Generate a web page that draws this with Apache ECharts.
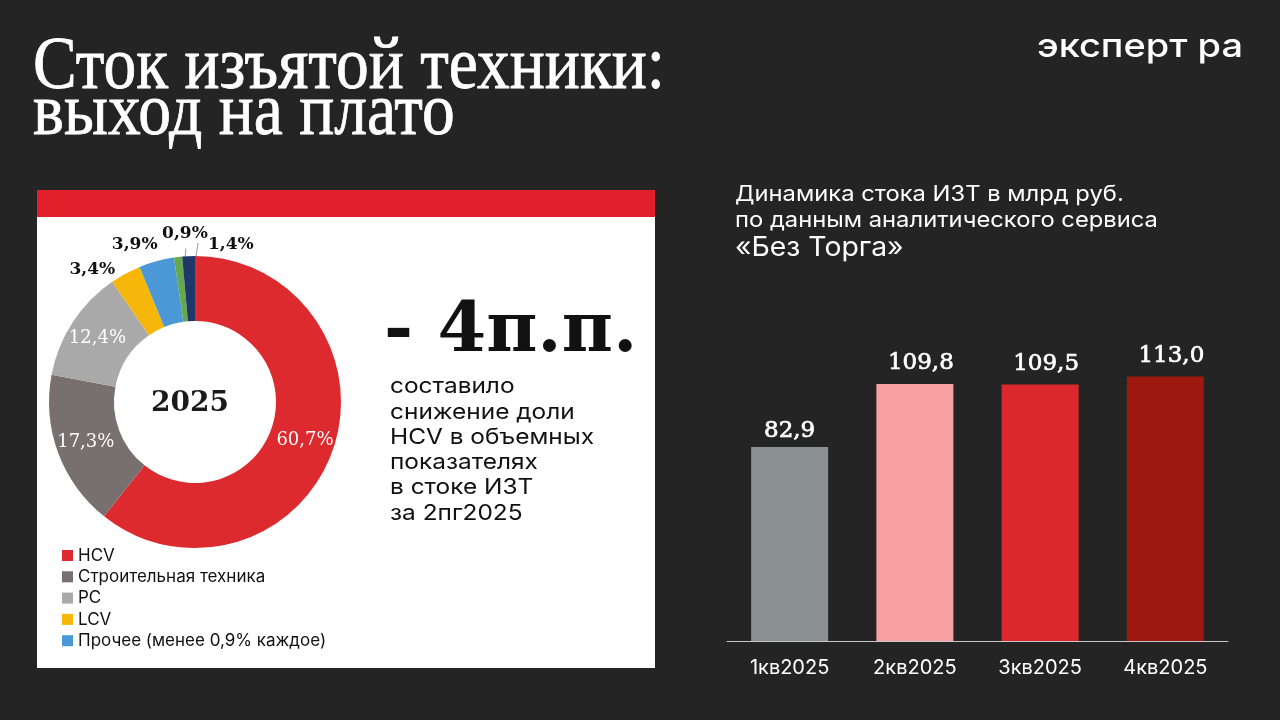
<!DOCTYPE html>
<html>
<head>
<meta charset="utf-8">
<script src="https://cdn.jsdelivr.net/npm/echarts@6/dist/echarts.min.js"></script>
<style>
html,body{margin:0;padding:0;background:#242424;}
#c{width:1280px;height:720px;}
</style>
</head>
<body>
<div id="c"></div>
<script>
// ---- data ----
const donutNames = ['HCV', 'Строительная техника', 'PC', 'LCV', 'Прочее (менее 0,9% каждое)', 'Прочее 0,9%', 'Прочее 1,4%'];
const donutValues = [60.7, 17.3, 12.4, 3.4, 3.9, 0.9, 1.4];
const legendNames = ['HCV', 'Строительная техника', 'PC', 'LCV', 'Прочее (менее 0,9% каждое)'];
const donutCenterLabel = '2025';
const quarters = ['1кв2025', '2кв2025', '3кв2025', '4кв2025'];
const stockValues = [82.9, 109.8, 109.5, 113.0];

// ---- styles ----
const donutColors = ['#dc2a2f', '#78706f', '#a9a9a9', '#f6b60a', '#4b98d6', '#67a84c', '#1f386a'];
const barColors = ['#8a8f92', '#f7a0a1', '#db282d', '#9d190f'];
const fmt = v => v.toFixed(1).replace('.', ',');

const chart = echarts.init(document.getElementById('c'));

const pieData = donutValues.map((v, i) => ({
  name: donutNames[i],
  value: v,
  itemStyle: { color: donutColors[i] },
  label: i < 3
    ? { position: 'inside', color: '#ffffff', fontSize: 18 }
    : { position: 'outside', color: '#111111', fontWeight: 'bold', fontSize: 17 },
  labelLine: { show: i >= 5 }
}));

const barData = stockValues.map((v, i) => ({
  value: v,
  itemStyle: { color: barColors[i] },
  label: i === 0 ? { offset: [0, 5] } : { offset: [6, 0] }
}));

chart.setOption({
  backgroundColor: '#242424',
  animation: false,
  graphic: [
    { type: 'rect', z: 0, shape: { x: 37, y: 190, width: 618, height: 478 }, style: { fill: '#ffffff' } },
    { type: 'rect', z: 0, shape: { x: 37, y: 190, width: 618, height: 27 }, style: { fill: '#e01f2b' } },
    { type: 'text', z: 1, x: 33, y: 32, scaleX: 0.885, style: { text: 'Сток изъятой техники:', fill: '#ffffff', stroke: '#ffffff', lineWidth: 0.8, font: '74px "Liberation Serif"', verticalAlign: 'top' } },
    { type: 'text', z: 1, x: 33, y: 78, scaleX: 0.885, style: { text: 'выход на плато', fill: '#ffffff', stroke: '#ffffff', lineWidth: 0.8, font: '74px "Liberation Serif"', verticalAlign: 'top' } },
    { type: 'text', z: 1, x: 1037, y: 31, scaleX: 1.15, style: { text: 'эксперт ра', fill: '#ffffff', font: '500 33px Inter', verticalAlign: 'top' } },
    { type: 'text', z: 1, x: 384, y: 298, style: { text: '- 4п.п.', fill: '#111111', font: 'bold 70px "DejaVu Serif"', verticalAlign: 'top' } },
    { type: 'text', z: 1, x: 390, y: 374, scaleX: 1.11, style: { text: 'составило\nснижение доли\nHCV в объемных\nпоказателях\nв стоке ИЗТ\nза 2пг2025', fill: '#111111', font: '22px Inter', lineHeight: 25.3, verticalAlign: 'top' } },
    { type: 'text', z: 1, x: 735, y: 181, scaleX: 1.08, style: { text: 'Динамика стока ИЗТ в млрд руб.\nпо данным аналитического сервиса', fill: '#ffffff', font: '22px Inter', lineHeight: 26, verticalAlign: 'top' } },
    { type: 'text', z: 1, x: 735, y: 234, scaleX: 1.05, style: { text: '«Без Торга»', fill: '#ffffff', font: '27px Inter', verticalAlign: 'top' } },
    { type: 'text', z: 3, x: 190, y: 404, style: { text: donutCenterLabel, fill: '#1a1a1a', font: 'bold 28px "DejaVu Serif"', align: 'center', verticalAlign: 'middle' } }
  ],
  legend: {
    data: legendNames,
    orient: 'vertical',
    left: 57,
    top: 542,
    icon: 'rect',
    itemWidth: 11,
    itemHeight: 11,
    itemGap: 4.3,
    textStyle: { color: '#111111', fontFamily: 'Inter', fontSize: 17 },
    selectedMode: false
  },
  grid: { left: 727, right: 52, top: 360, bottom: 79 },
  xAxis: {
    type: 'category',
    data: quarters,
    axisLine: { lineStyle: { color: '#c8c8c8', width: 1 } },
    axisTick: { show: false },
    axisLabel: { color: '#ffffff', fontFamily: 'Inter', fontSize: 20, margin: 17 }
  },
  yAxis: { type: 'value', min: 0, max: 120, show: false, splitLine: { show: false } },
  series: [
    {
      type: 'pie',
      center: [195, 402],
      radius: [81, 146],
      startAngle: 90,
      clockwise: true,
      avoidLabelOverlap: false,
      data: pieData,
      label: {
        show: true,
        fontFamily: 'DejaVu Serif',
        formatter: p => fmt(p.value) + '%'
      },
      labelLine: { length: 4, length2: 0, lineStyle: { color: '#9a9a9a', width: 1 } },
      labelLayout: function (p) {
        const r = p.rect;
        const cx = r.x + r.width / 2;
        if (p.dataIndex === 3) return { x: r.x + 3, y: r.y + 3, align: 'right', verticalAlign: 'middle' };
        if (p.dataIndex === 4) return { x: r.x + 18, y: r.y - 4, align: 'right', verticalAlign: 'bottom' };
        if (p.dataIndex === 5) return {
          x: cx + 4, y: r.y - 14, align: 'center', verticalAlign: 'bottom',
          labelLinePoints: [[cx + 2, r.y + 29], [cx + 3.5, r.y + 10], [cx + 5, r.y - 8]]
        };
        if (p.dataIndex === 6) return {
          x: r.x + r.width + 13, y: r.y - 3, align: 'left', verticalAlign: 'bottom',
          labelLinePoints: [[cx + 3, r.y + 32], [cx + 6, r.y + 10], [r.x + r.width + 3, r.y - 13]]
        };
        return {};
      },
      emphasis: { disabled: true }
    },
    {
      type: 'bar',
      data: barData,
      barWidth: 77,
      label: {
        show: true,
        position: 'top',
        distance: 9,
        color: '#ffffff',
        fontFamily: 'DejaVu Serif',
        fontSize: 23,
        textBorderColor: '#ffffff',
        textBorderWidth: 0.7,
        formatter: p => fmt(p.value)
      },
      emphasis: { disabled: true }
    }
  ]
});
</script>
</body>
</html>
